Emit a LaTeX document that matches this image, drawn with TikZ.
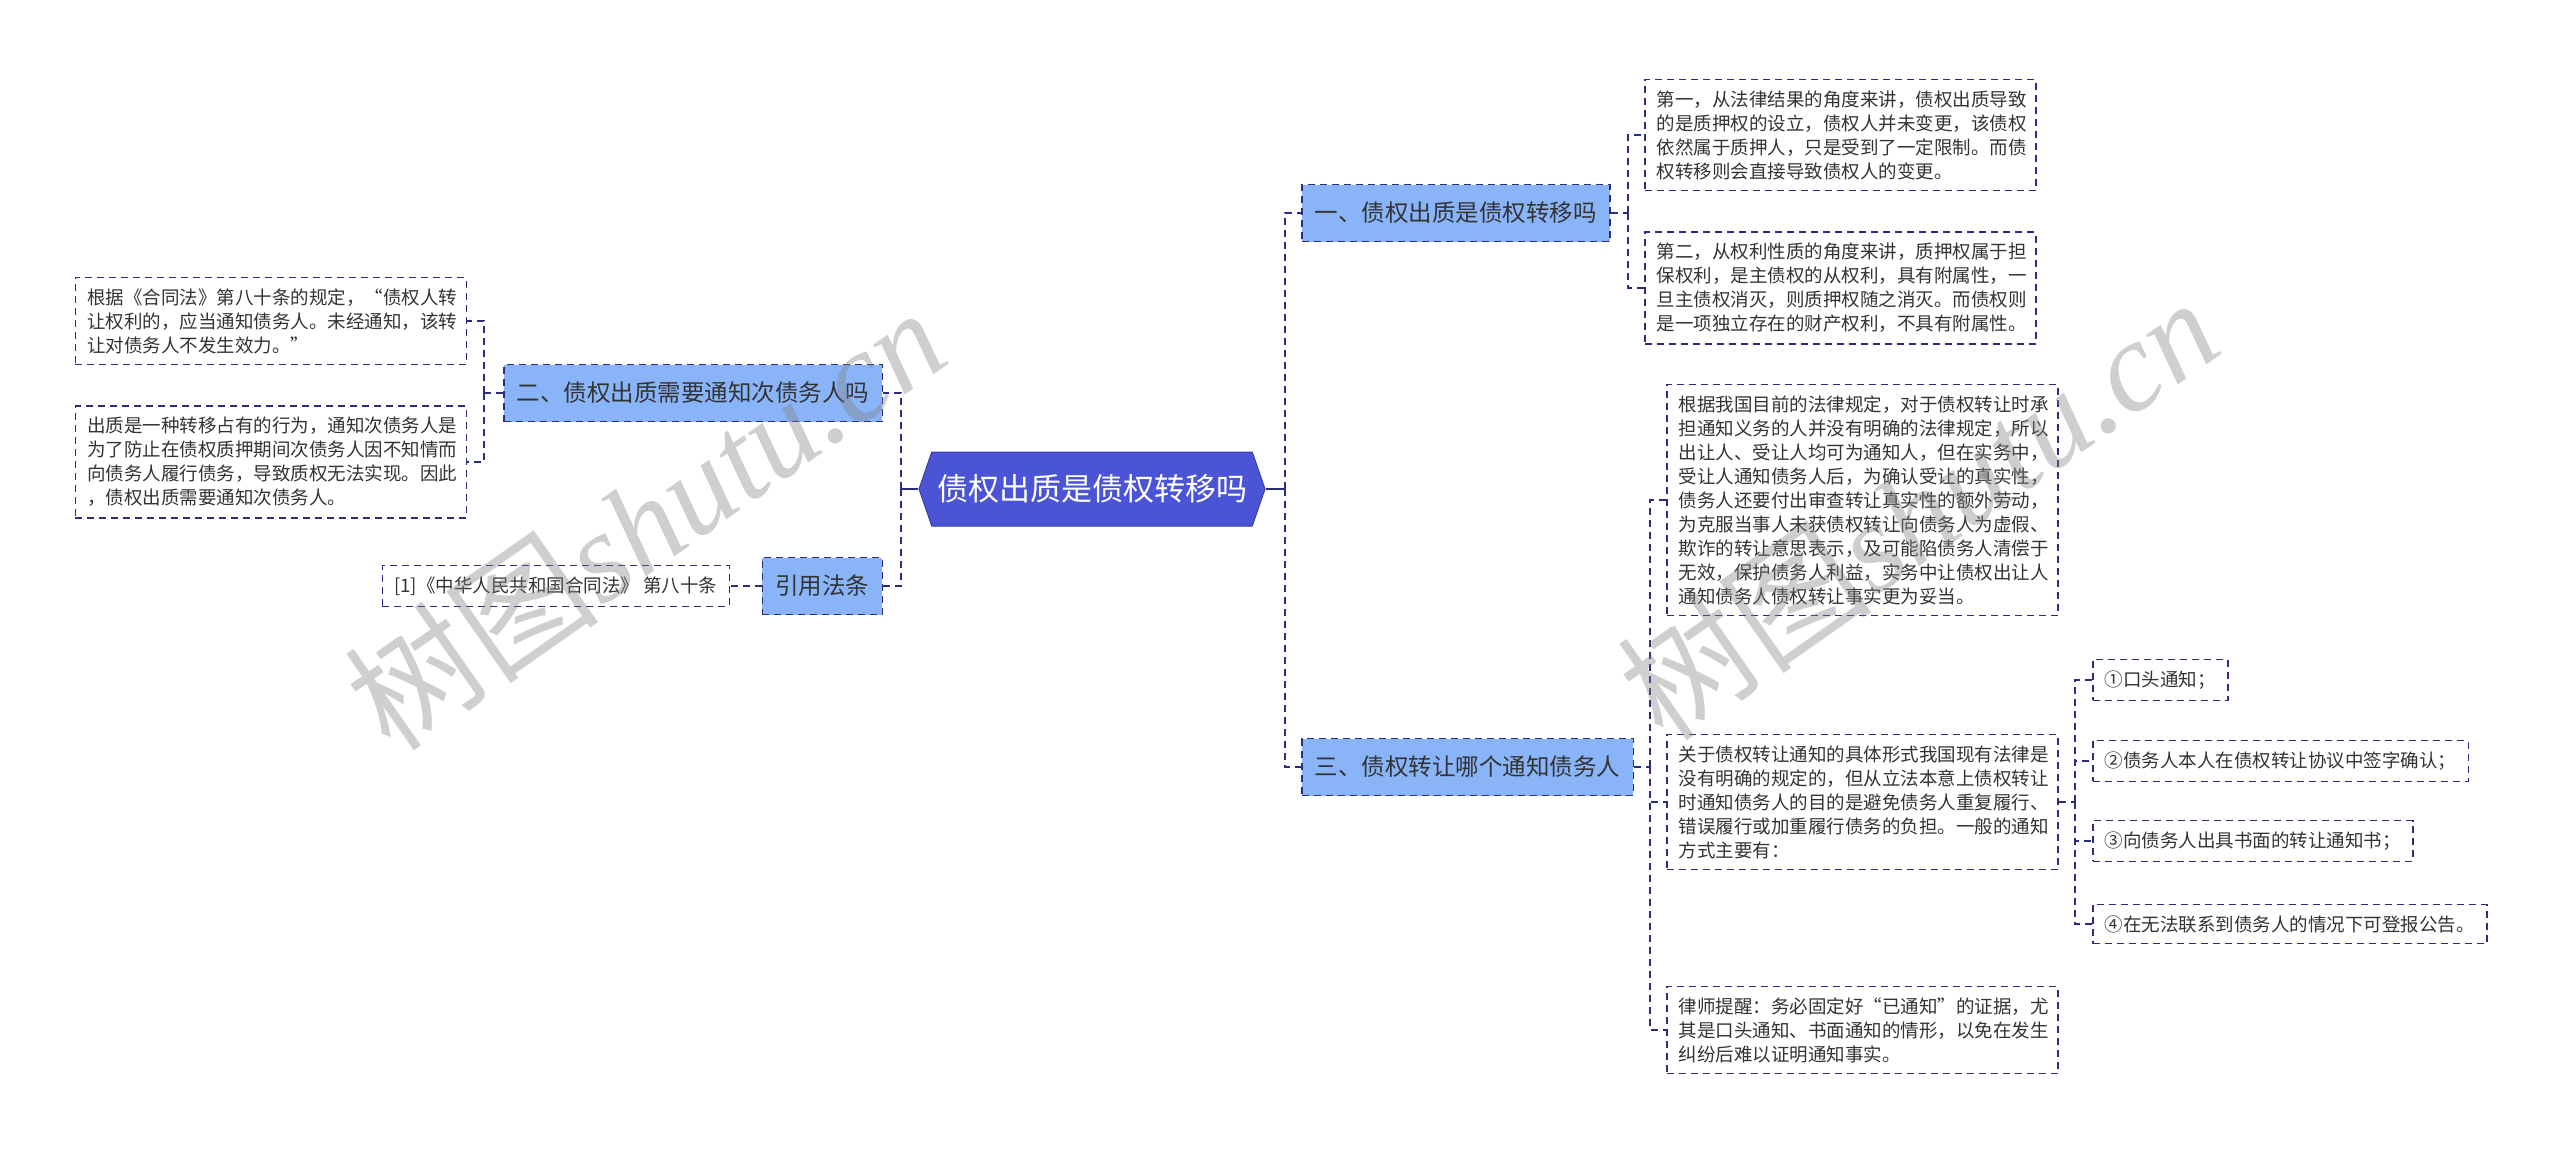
\documentclass[tikz,border=0pt]{standalone}
\usepackage{fontspec}
\setmainfont{Noto Sans CJK SC}
\newfontfamily\wmserif{Liberation Serif}
\usetikzlibrary{shapes.symbols}

\definecolor{rootblue}{RGB}{76,84,214}
\definecolor{rootedge}{RGB}{58,62,170}
\definecolor{branchblue}{RGB}{138,180,248}
\definecolor{linknavy}{RGB}{42,44,128}
\definecolor{textgray}{RGB}{51,51,51}

\begin{document}
\begin{tikzpicture}[x=1pt, y=-1pt,
    rootnode/.style={signal, signal to=west and east, signal pointer angle=142, fill=rootblue, draw=rootedge, line width=1pt,
                     text=white, font=\fontsize{31}{36}\selectfont, minimum width=346pt, minimum height=74pt, inner xsep=4pt},
    branch/.style={draw=linknavy, dash pattern=on 7pt off 5pt, line width=1.5pt, fill=branchblue, text=textgray,
                   font=\fontsize{23.5}{28}\selectfont, inner xsep=13pt, minimum height=57pt},
    leaf/.style={draw=linknavy, dash pattern=on 7pt off 5pt, line width=1.5pt, fill=white, text=textgray,
                 font=\fontsize{18.5}{24}\selectfont, align=left, inner xsep=12pt, inner ysep=11pt},
    note/.style={leaf, text width=367pt},
    link/.style={draw=linknavy, dash pattern=on 7pt off 5pt, line width=1.5pt},
    trunk/.style={draw=linknavy, line width=2.5pt},
    wm/.style={text=gray, text opacity=0.38, rotate=35, inner sep=0pt}]
    \useasboundingbox (0,0) rectangle (2560,1156);

    % root and branches
    \node[rootnode] (root) at (1092,489) {债权出质是债权转移吗};
    \node[branch, anchor=west] (zhuanyi) at (1301,213) {一、债权出质是债权转移吗};
    \node[branch, anchor=east] (tongzhi) at (883,393) {二、债权出质需要通知次债务人吗};
    \node[branch, anchor=west] (nage) at (1301,767) {三、债权转让哪个通知债务人};
    \node[branch, anchor=east] (fatiao) at (883,586) {引用法条};

    % left leaves
    \node[note, anchor=east] (hetongfa) at (467,321) {根据《合同法》第八十条的规定，“债权人转\\让权利的，应当通知债务人。未经通知，该转\\让对债务人不发生效力。”};
    \node[note, anchor=east] (zhanyou) at (467,462) {出质是一种转移占有的行为，通知次债务人是\\为了防止在债权质押期间次债务人因不知情而\\向债务人履行债务，导致质权无法实现。因此\\，债权出质需要通知次债务人。};
    \node[leaf, anchor=east] (tiaowen) at (730,586) {[1]《中华人民共和国合同法》 第八十条};

    % right leaves
    \node[note, anchor=west] (diyi) at (1644,135) {第一，从法律结果的角度来讲，债权出质导致\\的是质押权的设立，债权人并未变更，该债权\\依然属于质押人，只是受到了一定限制。而债\\权转移则会直接导致债权人的变更。};
    \node[note, anchor=west] (dier) at (1644,288) {第二，从权利性质的角度来讲，质押权属于担\\保权利，是主债权的从权利，具有附属性，一\\旦主债权消灭，则质押权随之消灭。而债权则\\是一项独立存在的财产权利，不具有附属性。};
    \node[note, anchor=west] (guiding) at (1666,500) {根据我国目前的法律规定，对于债权转让时承\\担通知义务的人并没有明确的法律规定，所以\\出让人、受让人均可为通知人，但在实务中，\\受让人通知债务人后，为确认受让的真实性，\\债务人还要付出审查转让真实性的额外劳动，\\为克服当事人未获债权转让向债务人为虚假、\\欺诈的转让意思表示，及可能陷债务人清偿于\\无效，保护债务人利益，实务中让债权出让人\\通知债务人债权转让事实更为妥当。};
    \node[note, anchor=west] (xingshi) at (1666,802) {关于债权转让通知的具体形式我国现有法律是\\没有明确的规定的，但从立法本意上债权转让\\时通知债务人的目的是避免债务人重复履行、\\错误履行或加重履行债务的负担。一般的通知\\方式主要有：};
    \node[note, anchor=west] (tixing) at (1666,1030) {律师提醒：务必固定好“已通知”的证据，尤\\其是口头通知、书面通知的情形，以免在发生\\纠纷后难以证明通知事实。};

    \node[leaf, anchor=west] (fangshi1) at (2092,680) {①口头通知；};
    \node[leaf, anchor=west] (fangshi2) at (2092,761) {②债务人本人在债权转让协议中签字确认；};
    \node[leaf, anchor=west] (fangshi3) at (2092,841) {③向债务人出具书面的转让通知书；};
    \node[leaf, anchor=west] (fangshi4) at (2092,924) {④在无法联系到债务人的情况下可登报公告。};

    % junctions
    \coordinate (jr) at (1285,489);
    \coordinate (jl) at (901,489);
    \coordinate (j1) at (1628,213);
    \coordinate (j2) at (484,393);
    \coordinate (j3) at (1650,767);
    \coordinate (j4) at (2075,802);

    \draw[trunk] (root.east) -- (jr);
    \draw[trunk] (root.west) -- (jl);
    \draw[link] (jr) |- (zhuanyi.west);
    \draw[link] (jr) |- (nage.west);
    \draw[link] (jl) |- (tongzhi.east);
    \draw[link] (jl) |- (fatiao.east);

    \draw[link] (zhuanyi.east) -- (j1);
    \draw[link] (j1) |- (diyi.west);
    \draw[link] (j1) |- (dier.west);

    \draw[link] (tongzhi.west) -- (j2);
    \draw[link] (j2) |- (hetongfa.east);
    \draw[link] (j2) |- (zhanyou.east);

    \draw[link] (fatiao.west) -- (tiaowen.east);

    \draw[link] (nage.east) -- (j3);
    \draw[link] (j3) |- (guiding.west);
    \draw[link] (j3) |- (xingshi.west);
    \draw[link] (j3) |- (tixing.west);

    \draw[link] (xingshi.east) -- (j4);
    \foreach \k in {1,...,4}
        \draw[link] (j4) |- (fangshi\k.west);

    % watermarks
    \node[wm] (wmleft) at (645,518) {\fontsize{128}{128}\selectfont 树图\wmserif\itshape shutu.cn};
    \node[wm] (wmright) at (1918,508) {\fontsize{128}{128}\selectfont 树图\wmserif\itshape shutu.cn};
\end{tikzpicture}
\end{document}
